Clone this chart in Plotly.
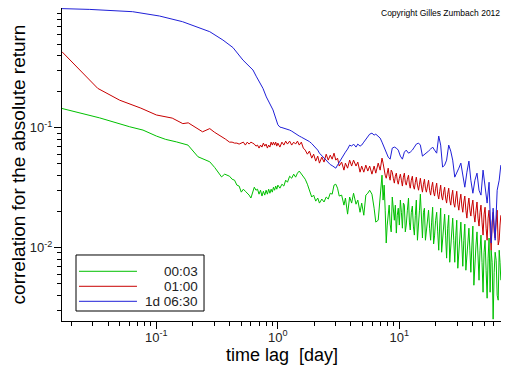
import plotly.graph_objects as go

# ---------------- data ----------------
# smooth early part of each series (lag in days, correlation)
green_head_lag = [0.0167, 0.0341, 0.0603, 0.0776, 0.100, 0.1193, 0.146, 0.1655, 0.182,
                  0.220, 0.275, 0.302, 0.323, 0.344, 0.365]
green_head = [0.145, 0.121, 0.102, 0.0957, 0.0853, 0.0800, 0.0763, 0.0741, 0.0717,
              0.0573, 0.0520, 0.0466, 0.0426, 0.0389, 0.0410]

red_head_lag = [0.0167, 0.0329, 0.0499, 0.0745, 0.100, 0.135, 0.165, 0.183, 0.240,
                0.275, 0.300, 0.332, 0.370]
red_head = [0.432, 0.2135, 0.170, 0.146, 0.128, 0.1205, 0.1084, 0.110, 0.0926,
            0.0985, 0.0920, 0.0869, 0.0805]

blue_head_lag = [0.0167, 0.0283, 0.0638, 0.106, 0.164, 0.227, 0.275, 0.353, 0.427,
                 0.516, 0.624, 0.663, 0.754, 0.804, 0.912, 1.00]
blue_head = [0.99, 0.975, 0.933, 0.859, 0.770, 0.678, 0.635, 0.541, 0.468,
             0.368, 0.304, 0.270, 0.2135, 0.181, 0.141, 0.106]

# noisy part: common lag grid (days)
tail_lag = [
    0.40, 0.42, 0.44, 0.46, 0.48, 0.50, 0.52, 0.54, 0.56, 0.58,
    0.60, 0.62, 0.64, 0.66, 0.68, 0.70, 0.72, 0.74, 0.76, 0.78,
    0.80, 0.82, 0.84, 0.86, 0.88, 0.90, 0.92, 0.94, 0.96, 0.98,
    1.00,
    1.04, 1.08, 1.12, 1.16, 1.2, 1.25, 1.3, 1.35, 1.4, 1.45,
    1.5, 1.56, 1.62, 1.68, 1.75, 1.82, 1.9, 1.97, 2.05, 2.13,
    2.2, 2.3, 2.4, 2.5, 2.6, 2.7, 2.8, 2.9, 3.0, 3.1,
    3.2, 3.35, 3.5, 3.6, 3.75, 3.9, 4.05, 4.2, 4.4, 4.55,
    4.75, 4.9, 5.1, 5.3, 5.5, 5.7, 5.95, 6.2, 6.4, 6.7,
    6.95, 7.2, 7.5, 7.8, 8.1, 8.4, 8.75, 9.1, 9.45, 9.8,
    10.2, 10.6, 11.0, 11.4, 11.9, 12.3, 12.8, 13.3, 13.8, 14.4,
    14.9, 15.5, 16.1, 16.7, 17.4, 18.1, 18.8, 19.5, 20.3, 21.1,
    21.9, 22.7, 23.6, 24.5, 25.5, 26.5, 27.5, 28.6, 29.7, 30.9,
    32.1, 33.3, 34.6, 36.0, 37.4, 38.8, 40.3, 41.9, 43.6, 45.3,
    47.0, 48.9, 50.8, 52.8, 54.8, 57.0, 59.2, 61.5, 63.9, 66.4,
    68.5,
]

green_tail = [
    0.0394, 0.0372, 0.0365, 0.0332, 0.0326, 0.0290, 0.0307, 0.0295, 0.0284, 0.0274,
    0.0259, 0.0290, 0.0319, 0.0301, 0.0307, 0.0279, 0.0301, 0.0269, 0.0295, 0.0274,
    0.0301, 0.0279, 0.0307, 0.0284, 0.0307, 0.0290, 0.0319, 0.0301, 0.0326, 0.0307,
    0.0332,
    0.0313, 0.0338, 0.0326, 0.0365, 0.0351, 0.0394, 0.0379, 0.0410, 0.0387, 0.0418,
    0.0435, 0.0410, 0.0394, 0.0372, 0.0338, 0.0301, 0.0264, 0.0274, 0.0244, 0.0259,
    0.0235, 0.0254, 0.0240, 0.0264, 0.0254, 0.0284, 0.0279, 0.0332, 0.0338, 0.0313,
    0.0269, 0.0274, 0.0226, 0.0259, 0.0190, 0.0264, 0.0235, 0.0284, 0.0230, 0.0249,
    0.0197, 0.0235, 0.0186, 0.0274, 0.0284, 0.0301, 0.0279, 0.0213, 0.0163, 0.0169,
    0.0274, 0.0402, 0.0332, 0.0109, 0.0186, 0.0157, 0.0264, 0.0169, 0.0132, 0.0213,
    0.0249, 0.0145, 0.0226, 0.0154, 0.0259, 0.0140, 0.0222, 0.0127, 0.0249, 0.0145,
    0.0279, 0.0120, 0.0213, 0.0135, 0.0205, 0.0115, 0.0217, 0.0125, 0.0197, 0.00949,
    0.0213, 0.0111, 0.0190, 0.00815, 0.0186, 0.00991, 0.0176, 0.00753, 0.0169, 0.00949,
    0.0163, 0.00697, 0.0157, 0.00862, 0.0145, 0.00621, 0.0151, 0.00753, 0.0135, 0.00533,
    0.0127, 0.00423, 0.0115, 0.00377, 0.0120, 0.00949, 0.00252, 0.00913, 0.00399, 0.00949,
    0.00533,
]

red_tail = [
    0.0759, 0.0759, 0.0745, 0.0745, 0.0731, 0.0745, 0.0759, 0.0717, 0.0759, 0.0731,
    0.0759, 0.0745, 0.0731, 0.0703, 0.0717, 0.0677, 0.0717, 0.0690, 0.0745, 0.0703,
    0.0731, 0.0677, 0.0717, 0.0690, 0.0759, 0.0717, 0.0759, 0.0717, 0.0759, 0.0703,
    0.0745,
    0.0690, 0.0759, 0.0717, 0.0774, 0.0731, 0.0774, 0.0717, 0.0759, 0.0731, 0.0774,
    0.0717, 0.0759, 0.0677, 0.0651, 0.0602, 0.0639, 0.0558, 0.0602, 0.0527, 0.0580,
    0.0507, 0.0569, 0.0517, 0.0602, 0.0537, 0.0591, 0.0547, 0.0614, 0.0537, 0.0558,
    0.0479, 0.0517, 0.0443, 0.0507, 0.0460, 0.0537, 0.0479, 0.0537, 0.0479, 0.0517,
    0.0426, 0.0479, 0.0426, 0.0488, 0.0435, 0.0479, 0.0410, 0.0479, 0.0418, 0.0507,
    0.0443, 0.0558, 0.0443, 0.0379, 0.0460, 0.0365, 0.0426, 0.0345, 0.0418, 0.0338,
    0.0410, 0.0326, 0.0418, 0.0332, 0.0402, 0.0313, 0.0394, 0.0307, 0.0387, 0.0301,
    0.0379, 0.0290, 0.0372, 0.0290, 0.0365, 0.0274, 0.0351, 0.0269, 0.0345, 0.0254,
    0.0332, 0.0249, 0.0319, 0.0235, 0.0313, 0.0226, 0.0301, 0.0217, 0.0295, 0.0205,
    0.0279, 0.0197, 0.0269, 0.0176, 0.0259, 0.0183, 0.0249, 0.0163, 0.0240, 0.0151,
    0.0226, 0.0127, 0.0217, 0.0115, 0.0205, 0.00949, 0.0197, 0.0120, 0.0205, 0.0115,
    0.0186,
]

# extra in-between lags for the densest, most noisy part (green and red only)
dense_lag = [
    7.07, 7.35, 7.65, 7.95, 8.25, 8.57, 8.92, 9.27, 9.62, 10.0,
    10.4, 10.8, 11.2, 11.65, 12.1, 12.55, 13.05, 13.55, 14.1, 14.65,
    15.2, 15.8, 16.4, 17.05, 17.75, 18.45, 19.15, 19.9, 20.7, 21.5,
    22.3, 23.15, 24.05, 25.0, 26.0, 27.0, 28.05, 29.15, 30.3, 31.5,
    32.7, 33.95, 35.3, 36.7, 38.1, 39.55, 41.1, 42.75, 44.45, 46.15,
    47.95, 49.85, 51.8, 53.8, 55.9, 58.1, 60.35, 62.7, 65.15, 67.45,
]

green_dense = [
    0.0313, 0.0249, 0.0205, 0.0154, 0.0226, 0.0135, 0.0205, 0.0226, 0.0186, 0.0154,
    0.0197, 0.0235, 0.0135, 0.0205, 0.0163, 0.0197, 0.0151, 0.0186, 0.0115, 0.0205,
    0.0163, 0.0197, 0.0115, 0.0176, 0.0145, 0.0163, 0.0107, 0.0169, 0.0135, 0.0154,
    0.00913, 0.0154, 0.0125, 0.0145, 0.00753, 0.0135, 0.0115, 0.0125, 0.00671, 0.0129,
    0.0107, 0.0115, 0.00646, 0.0115, 0.00949, 0.0103, 0.00484, 0.0105, 0.00862, 0.00949,
    0.00753, 0.00913, 0.00646, 0.00815, 0.00423, 0.00753, 0.00621, 0.00783, 0.00363, 0.00753,
]

red_dense = [
    0.0488, 0.0507, 0.0402, 0.0426, 0.0394, 0.0443, 0.0379, 0.0394, 0.0365, 0.0379,
    0.0365, 0.0387, 0.0351, 0.0372, 0.0338, 0.0365, 0.0326, 0.0351, 0.0332, 0.0338,
    0.0326, 0.0338, 0.0313, 0.0326, 0.0301, 0.0319, 0.0290, 0.0313, 0.0279, 0.0295,
    0.0269, 0.0290, 0.0259, 0.0279, 0.0249, 0.0269, 0.0235, 0.0259, 0.0230, 0.0249,
    0.0222, 0.0240, 0.0205, 0.0226, 0.0205, 0.0222, 0.0190, 0.0205, 0.0176, 0.0197,
    0.0163, 0.0190, 0.0145, 0.0176, 0.0140, 0.0163, 0.0135, 0.0163, 0.0105, 0.0154,
]

# blue tail starts at lag 1.04 (tail_lag[31:])
blue_tail = [
    0.1014, 0.1004, 0.0994, 0.0988, 0.0975, 0.0957, 0.0938, 0.0912, 0.0885, 0.0869,
    0.0853, 0.0836, 0.0821, 0.0797, 0.0782, 0.0767, 0.0738, 0.0710, 0.0690, 0.0651,
    0.0614, 0.0585, 0.0558, 0.0532, 0.0507, 0.0493, 0.0483, 0.0469, 0.0460, 0.0488,
    0.0517, 0.0558, 0.0591, 0.0626, 0.0664, 0.0717, 0.0703, 0.0731, 0.0690, 0.0731,
    0.0703, 0.0717, 0.0759, 0.0805, 0.0853, 0.0885, 0.0902, 0.0869, 0.0885, 0.0853,
    0.0821, 0.0759, 0.0690, 0.0614, 0.0569, 0.0547, 0.0677, 0.0690, 0.0677, 0.0651,
    0.0580, 0.0547, 0.0626, 0.0651, 0.0614, 0.0626, 0.0651, 0.0690, 0.0731, 0.0745,
    0.0717, 0.0580, 0.0602, 0.0626, 0.0639, 0.0664, 0.0690, 0.0651, 0.0614, 0.0853,
    0.0717, 0.0469, 0.0488, 0.0537, 0.0717, 0.0639, 0.0537, 0.0387, 0.0418, 0.0460,
    0.0507, 0.0402, 0.0319, 0.0426, 0.0527, 0.0365, 0.0284, 0.0365, 0.0418, 0.0301,
    0.0274, 0.0443, 0.0301, 0.0235, 0.0351, 0.0109, 0.0213, 0.0115, 0.0301, 0.0365,
    0.0488,
]

series_names = ["00:03", "01:00", "1d 06:30"]
series_colors = ["#00c000", "#c80000", "#2020d8"]

x_tick_vals = [0.1, 1, 10]
x_tick_text = ["10<sup>-1</sup>", "10<sup>0</sup>", "10<sup>1</sup>"]
y_tick_vals = [0.01, 0.1]
y_tick_text = ["10<sup>-2</sup>", "10<sup>-1</sup>"]
x_minor_vals = [0.02, 0.03, 0.04, 0.05, 0.06, 0.07, 0.08, 0.09,
                0.2, 0.3, 0.4, 0.5, 0.6, 0.7, 0.8, 0.9,
                2, 3, 4, 5, 6, 7, 8, 9, 20, 30, 40, 50, 60]
y_minor_vals = [0.003, 0.004, 0.005, 0.006, 0.007, 0.008, 0.009,
                0.02, 0.03, 0.04, 0.05, 0.06, 0.07, 0.08, 0.09,
                0.2, 0.3, 0.4, 0.5, 0.6, 0.7, 0.8, 0.9]

# ---------------- figure ----------------
FONT = "Liberation Sans, Arial, Helvetica, sans-serif"


def merged(lags, vals):
    pairs = sorted(zip(lags, vals))
    return [p[0] for p in pairs], [p[1] for p in pairs]


green_x, green_y = merged(green_head_lag + tail_lag + dense_lag, green_head + green_tail + green_dense)
red_x, red_y = merged(red_head_lag + tail_lag + dense_lag, red_head + red_tail + red_dense)
blue_x, blue_y = merged(blue_head_lag + tail_lag[31:], blue_head + blue_tail)

fig = go.Figure()
for name, color, x, y in zip(series_names, series_colors,
                             [green_x, red_x, blue_x], [green_y, red_y, blue_y]):
    fig.add_trace(go.Scatter(x=x, y=y, mode="lines", name=name, cliponaxis=False,
                             line=dict(color=color, width=1), showlegend=False))

# the page body adds an 8 px offset, so the figure is 8 px smaller than the window
fig.update_layout(
    width=504, height=358,
    margin=dict(l=54, r=11, t=0, b=45, autoexpand=False),
    paper_bgcolor="white", plot_bgcolor="white",
    font=dict(family=FONT, color="black"),
)

axis_common = dict(
    type="log", showgrid=False, zeroline=False, automargin=False,
    showline=True, linecolor="black", linewidth=1,
    ticks="outside", ticklen=7, tickwidth=1, tickcolor="black",
    tickmode="array", tickfont=dict(size=13, color="#222"),
    minor=dict(ticks="outside", ticklen=4, tickwidth=1, tickcolor="black",
               showgrid=False, tickmode="array"),
)

fig.update_xaxes(**axis_common)
fig.update_xaxes(
    range=[-1.777, 1.837],
    tickvals=x_tick_vals, ticktext=x_tick_text, ticklabelstandoff=-3,
    minor_tickvals=x_minor_vals,
)
fig.update_yaxes(**axis_common)
fig.update_yaxes(
    range=[-2.614, 0.0008],
    tickvals=y_tick_vals, ticktext=y_tick_text, ticklabelstandoff=-1,
    minor_tickvals=y_minor_vals,
    title=dict(text="correlation for the absolute return", font=dict(size=19), standoff=4),
)

# x-axis title placed as text below the tick labels
fig.add_annotation(xref="paper", yref="paper", x=0.5, y=-0.1086,
                   text="time lag  [day]", showarrow=False,
                   xanchor="center", yanchor="middle", font=dict(size=18, color="black"))

# legend box drawn in paper coordinates
lx0, lx1, ly0, ly1 = 0.0319, 0.3235, 0.0319, 0.2109
fig.add_shape(type="rect", xref="paper", yref="paper", x0=lx0, x1=lx1, y0=ly0, y1=ly1,
              line=dict(color="black", width=1), fillcolor="white", layer="above")
legend_rows = [0.1588, 0.1109, 0.0629]
for name, color, ry in zip(series_names, series_colors, legend_rows):
    fig.add_shape(type="line", xref="paper", yref="paper", x0=0.0387, x1=0.1708,
                  y0=ry, y1=ry, line=dict(color=color, width=1), layer="above")
    fig.add_annotation(xref="paper", yref="paper", x=0.3144, y=ry, text=name,
                       showarrow=False, xanchor="right", yanchor="middle",
                       font=dict(size=13.5, color="#222"))

fig.add_annotation(xref="paper", yref="paper", x=1.002, y=0.984,
                   text="Copyright Gilles Zumbach 2012", showarrow=False,
                   xanchor="right", yanchor="middle", font=dict(size=8.5, color="black"))

fig.write_html("out.html")
